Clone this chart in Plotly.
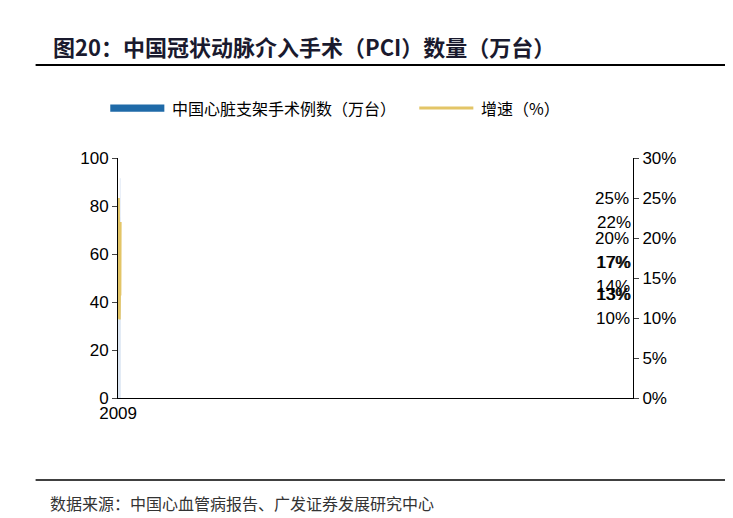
import plotly.graph_objects as go

years = ["2009", "2010", "2011", "2012", "2013", "2014", "2015", "2016", "2017", "2018"]
pci = [22.8, 28.5, 34.1, 38.9, 45.5, 50.1, 56.8, 66.6, 75.3, 91.5]
growth_years = years[1:]
growth = [25, 20, 14, 17, 10, 13, 17, 13, 22]

CJK = "Noto Sans CJK SC"
NUM = "Liberation Sans, Arial"
BLUE = "#1f6aa8"
GOLD = "#e3c567"

fig = go.Figure()
fig.add_trace(go.Bar(x=years, y=pci, name="中国心脏支架手术例数（万台）",
                     marker_color=BLUE, width=0.35,
                     text=[f"{v:.1f}" for v in pci], textposition="outside",
                     textfont=dict(family=NUM, size=17, color="black"), cliponaxis=False))
fig.add_trace(go.Scatter(x=growth_years, y=[g / 100 for g in growth], yaxis="y2",
                         name="增速（%）", mode="lines",
                         line=dict(color=GOLD, width=3, shape="spline", smoothing=0.8)))

for yr, g in zip(growth_years, growth):
    fig.add_annotation(x=yr, y=g / 100, yref="y2", text=f"{g}%", showarrow=False,
                       xshift=46, font=dict(family=NUM, size=17, color="black"))

fig.update_layout(
    width=733, height=518,
    margin=dict(l=110, r=108, t=150, b=128),
    plot_bgcolor="white", paper_bgcolor="white",
    showlegend=False, bargap=0.5,
    xaxis=dict(type="category", showline=True, linecolor="black", ticks="",
               tickfont=dict(family=NUM, size=17, color="black")),
    yaxis=dict(range=[0, 100], dtick=20, showgrid=False, showline=True, linecolor="black",
               ticks="outside", ticklen=5, tickfont=dict(family=NUM, size=17, color="black")),
    yaxis2=dict(range=[0, 0.30], dtick=0.05, tickformat=".0%", overlaying="y", side="right",
                showgrid=False, showline=True, linecolor="black", ticks="outside", ticklen=5,
                tickfont=dict(family=NUM, size=17, color="black")),
)

# title, rules, legend, source
fig.add_annotation(xref="paper", yref="paper", x=-0.13, y=1.467, xanchor="left", yanchor="middle",
                   text="<b>图20：中国冠状动脉介入手术（PCI）数量（万台）</b>", showarrow=False,
                   font=dict(family=CJK, size=22, color="#1a1a2e"))
fig.add_shape(type="line", xref="paper", yref="paper", x0=-0.16, x1=1.19, y0=1.388, y1=1.388,
              line=dict(color="black", width=2))
fig.add_shape(type="line", xref="paper", yref="paper", x0=-0.16, x1=1.19, y0=-0.342, y1=-0.342,
              line=dict(color="black", width=1.5))
fig.add_shape(type="rect", xref="paper", yref="paper", x0=-0.015, x1=0.09, y0=1.193, y1=1.223,
              fillcolor=BLUE, line_width=0)
fig.add_annotation(xref="paper", yref="paper", x=0.1, y=1.208, xanchor="left", yanchor="middle",
                   showarrow=False, text="中国心脏支架手术例数（万台）",
                   font=dict(family=CJK, size=16, color="black"))
fig.add_shape(type="line", xref="paper", yref="paper", x0=0.585, x1=0.69, y0=1.208, y1=1.208,
              line=dict(color=GOLD, width=3))
fig.add_annotation(xref="paper", yref="paper", x=0.70, y=1.208, xanchor="left", yanchor="middle",
                   showarrow=False, text="增速（%）", font=dict(family=CJK, size=16, color="black"))
fig.add_annotation(xref="paper", yref="paper", x=-0.135, y=-0.4375, xanchor="left", yanchor="middle",
                   showarrow=False, text="数据来源：中国心血管病报告、广发证券发展研究中心",
                   font=dict(family=CJK, size=16, color="#333"))

fig.write_html("out.html")
